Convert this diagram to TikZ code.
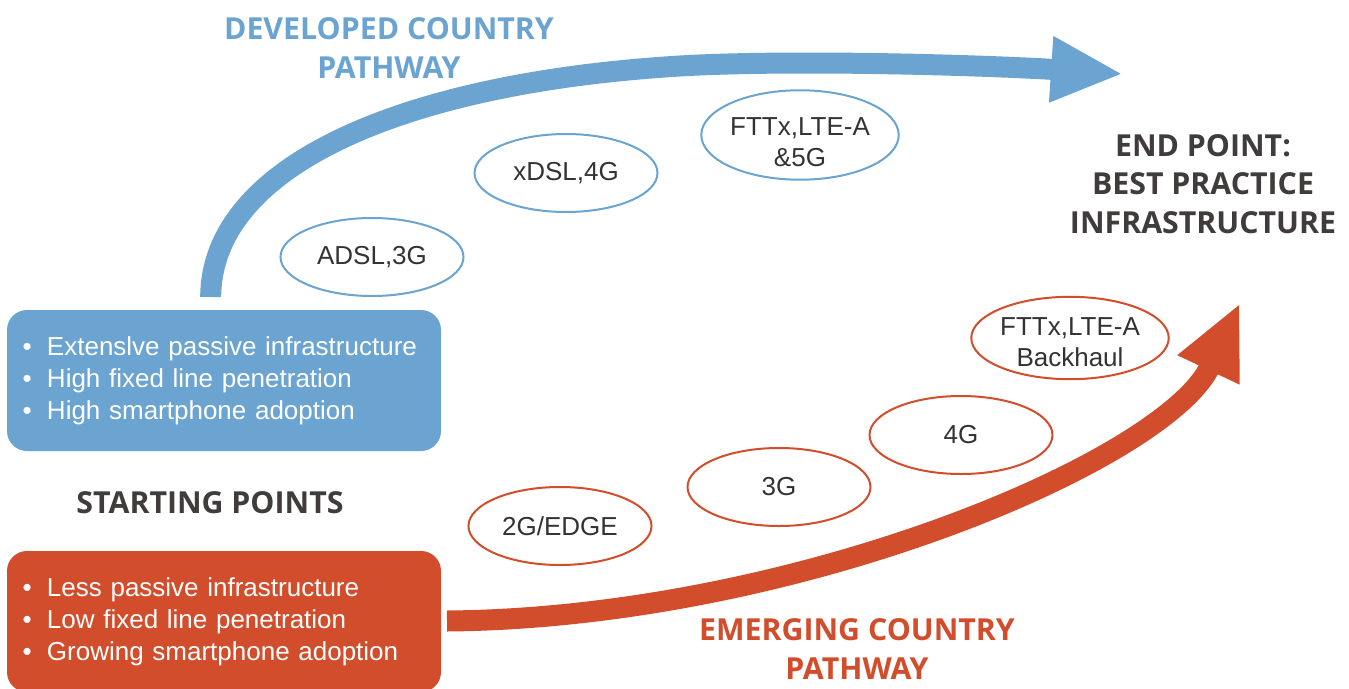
\documentclass[tikz,border=0pt]{standalone}
\usepackage{fontspec}
\setmainfont{Liberation Sans}
\newfontfamily\headfont{Open Sans}
\usetikzlibrary{arrows.meta,shapes.geometric}
\definecolor{pblue}{RGB}{107,164,209}
\definecolor{pred}{RGB}{210,77,43}
\definecolor{ptext}{RGB}{64,60,60}
\definecolor{etext}{RGB}{51,51,51}
\newcommand{\mybul}{\makebox[24.5pt][l]{•}}
\tikzset{
  bubble/.style={ellipse, line width=2pt, minimum width=183pt, minimum height=78pt,
    inner sep=0pt, text=etext, align=center, font=\fontsize{26}{31}\selectfont},
  bluebubble/.style={bubble, draw=pblue},
  redbubble/.style={bubble, draw=pred},
  heading/.style={font=\headfont\bfseries\fontsize{30.3}{38.5}\selectfont, align=center, inner sep=0pt},
  startbox/.style={rectangle, rounded corners=20pt, minimum width=434pt, minimum height=141pt,
    text width=403pt, inner xsep=15.5pt, inner ysep=0pt, align=left, text=white,
    font=\fontsize{26}{32}\selectfont},
  pathway/.style={line width=21pt}
}
\begin{document}
\begin{tikzpicture}[x=1pt,y=-1pt]
\clip (0,0) rectangle (1349,688);
\fill[white] (0,0) rectangle (1349,688);

% start boxes
\node[startbox, fill=pblue] (devbox) at (224,380.5)
  {\mybul Extenslve passive infrastructure\\\mybul High fixed line penetration\\\mybul High smartphone adoption};
\node[startbox, fill=pred] (emgbox) at (224,621.5)
  {\mybul Less passive infrastructure\\\mybul Low fixed line penetration\\\mybul Growing smartphone adoption};

% pathways
\coordinate (bs) at (210.7,297);
\coordinate (bm) at (680,66);
\coordinate (be) at (1123,74);
\draw[pathway, pblue, -{Triangle[length=72pt,width=61pt]}]
  (bs) .. controls (211,167) and (400,83) .. (bm) .. controls (800,59) and (1000,66) .. (be);

\coordinate (rs) at (447,621);
\coordinate (re) at (1240,303);
\draw[pathway, pred, -{Triangle[length=74pt,width=63pt]}]
  (rs) .. controls (797,618) and (1166,460) .. (re);

% bubbles
\node[bluebubble] (adsl) at (372,257) {ADSL,3G};
\node[bluebubble] (xdsl) at (566,173) {xDSL,4G};
\node[bluebubble] (fttxa) at (800,135) {\rule{0pt}{32pt}FTTx,LTE-A\\\&5G};
\node[redbubble] (edge) at (560,526) {2G/EDGE};
\node[redbubble] (g3) at (779,487) {3G};
\node[redbubble] (g4) at (961,435) {4G};
\node[redbubble] (fttxb) at (1070,338) {\rule{0pt}{27pt}FTTx,LTE-A\\Backhaul};

% headings
\node[heading, text=pblue] (devtitle) at (389,48) {DEVELOPED COUNTRY\\PATHWAY};
\node[heading, text=ptext] (endpt) at (1203,184) {END POINT:\\BEST PRACTICE\\INFRASTRUCTURE};
\node[heading, text=ptext] (startpts) at (210,503) {STARTING POINTS};
\node[heading, text=pred] (emgtitle) at (857,649) {EMERGING COUNTRY\\PATHWAY};
\end{tikzpicture}
\end{document}
